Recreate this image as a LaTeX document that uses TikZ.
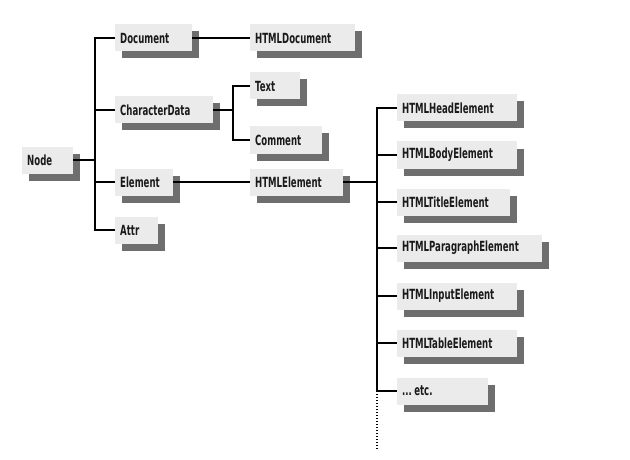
\documentclass[tikz,border=0pt]{standalone}
\usepackage{fontspec}
\setmainfont{DejaVu Sans Condensed}[FakeStretch=0.68]
\usetikzlibrary{shadows}
\definecolor{boxfill}{HTML}{EBEBEB}
\definecolor{shadowc}{HTML}{6E6E6E}
\definecolor{inkc}{HTML}{1A1A1A}
\tikzset{
  cls/.style={rectangle, fill=boxfill, anchor=west, inner xsep=5pt, inner ysep=0pt,
    minimum height=27pt, align=left, text=inkc, font=\fontsize{14}{15}\selectfont\bfseries,
    drop shadow={shadow xshift=7pt, shadow yshift=-7pt, fill=shadowc, opacity=1}},
  link/.style={draw=black, line width=1.4pt},
}
\begin{document}
\begin{tikzpicture}[x=1pt, y=-1pt]
\useasboundingbox (0,0) rectangle (630,460);
\fill[white] (0,0) rectangle (630,460);
\coordinate (tA) at (95,0);
\coordinate (tB) at (233,0);
\coordinate (tC) at (377,0);
\coordinate (dotend) at (377,450);

\node[cls, text width=41pt] (node) at (22,160) {Node};
\node[cls, text width=67pt] (document) at (115,38) {Document};
\node[cls, text width=95pt] (htmldocument) at (250,38) {HTMLDocument};
\node[cls, text width=88pt] (chardata) at (115,110) {CharacterData};
\node[cls, text width=40pt] (text) at (250,86) {Text};
\node[cls, text width=62pt] (comment) at (250,140) {Comment};
\node[cls, text width=48pt] (element) at (115,182) {Element};
\node[cls, text width=83pt] (htmlelement) at (250,182) {HTMLElement};
\node[cls, text width=33pt] (attr) at (115,230) {Attr};

\node[cls, text width=110pt] (head) at (397,108) {HTMLHeadElement};
\node[cls, text width=110pt] (body) at (397,155) {HTMLBodyElement};
\node[cls, text width=103pt] (title) at (397,202) {HTMLTitleElement};
\node[cls, text width=135pt] (para) at (397,248) {HTMLParagraphElement};
\node[cls, text width=110pt] (input) at (397,296) {HTMLInputElement};
\node[cls, text width=110pt] (table) at (397,343) {HTMLTableElement};
\node[cls, text width=81pt] (etc) at (397,391) {...\,etc.};

% Node subtree
\draw[link] (node.east) -- (node.east -| tA);
\draw[link] (document.west) -- (document.west -| tA) -- (attr.west -| tA) -- (attr.west);
\draw[link] (chardata.west -| tA) -- (chardata.west);
\draw[link] (element.west -| tA) -- (element.west);
\draw[link] (document.east) -- (htmldocument.west);
% CharacterData subtree
\draw[link] (chardata.east) -- (chardata.east -| tB);
\draw[link] (text.west) -- (text.west -| tB) -- (comment.west -| tB) -- (comment.west);
% Element subtree
\draw[link] (element.east) -- (htmlelement.west);
\draw[link] (htmlelement.east) -- (htmlelement.east -| tC);
\draw[link] (head.west) -- (head.west -| tC) -- (etc.west -| tC) -- (etc.west);
\draw[link] (body.west -| tC) -- (body.west);
\draw[link] (title.west -| tC) -- (title.west);
\draw[link] (para.west -| tC) -- (para.west);
\draw[link] (input.west -| tC) -- (input.west);
\draw[link] (table.west -| tC) -- (table.west);
\draw[link, line width=1.3pt, dash pattern=on 1.3pt off 1.7pt] (etc.west -| tC) -- (dotend);
\end{tikzpicture}
\end{document}
